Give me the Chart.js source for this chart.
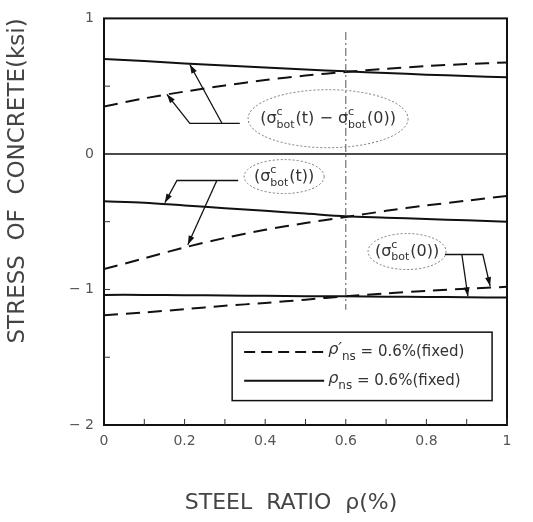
<!DOCTYPE html>
<html><head><meta charset="utf-8">
<script src="https://cdn.jsdelivr.net/npm/chart.js@4/dist/chart.umd.min.js"></script>
<style>html,body{margin:0;padding:0;background:#fff}#wrap{width:533px;height:522px}</style>
</head><body><div id="wrap"><canvas id="c" width="533" height="522"></canvas></div>
<script>
// x: steel ratio (%)
const steelRatio = [0,0.1,0.2,0.3,0.4,0.5,0.6,0.7,0.8,0.9,1.0];
// sigma_bot(t) - sigma_bot(0)
const diffSolid  = [0.70,0.685,0.668,0.652,0.637,0.623,0.61,0.597,0.585,0.575,0.565];
const diffDashed = [0.35,0.41,0.46,0.505,0.545,0.578,0.605,0.628,0.648,0.663,0.675];
// sigma_bot(t)
const botTSolid  = [-0.35,-0.36,-0.38,-0.40,-0.42,-0.44,-0.46,-0.47,-0.48,-0.49,-0.50];
const botTDashed = [-0.85,-0.77,-0.69,-0.62,-0.56,-0.51,-0.465,-0.42,-0.38,-0.345,-0.31];
// sigma_bot(0)
const bot0Solid  = [-1.04,-1.04,-1.042,-1.045,-1.047,-1.05,-1.05,-1.053,-1.055,-1.058,-1.06];
const bot0Dashed = [-1.19,-1.17,-1.145,-1.12,-1.10,-1.075,-1.05,-1.03,-1.01,-0.995,-0.98];
const yTicks = [1,0,-1,-2];
const xTicks = [0,0.2,0.4,0.6,0.8,1];
const legendLabels = [{rho:"ρ′",sub:"ns",rest:" = 0.6%(fixed)",dash:true},{rho:"ρ",sub:"ns",rest:" = 0.6%(fixed)",dash:false}];
const yTitle = "STRESS  OF  CONCRETE(ksi)";
const xTitle = "STEEL  RATIO  ρ(%)";

const pts = arr => arr.map((v,i)=>({x:steelRatio[i],y:v}));
const DASH=[14,8];
function ds(arr,dashed){return {data:pts(arr),borderColor:'#111',borderWidth:2,pointRadius:0,tension:0.3,fill:false,borderDash:dashed?DASH:[]};}

const FONT='"DejaVu Sans", sans-serif';

function drawRich(ctx, segs, cx, cy, size){
  const main = size+'px '+FONT, small=Math.round(size*0.7)+'px '+FONT;
  const widths = segs.map(s=>{
    if(s.t!==undefined){ctx.font=main;return ctx.measureText(s.t).width;}
    ctx.font=small;return Math.max(ctx.measureText(s.sup||'').width,ctx.measureText(s.sub||'').width)+1;
  });
  const w=widths.reduce((a,b)=>a+b,0);
  let x=cx-w/2;
  ctx.textBaseline='middle';ctx.textAlign='left';
  segs.forEach((s,i)=>{
    if(s.t!==undefined){ctx.font=main;ctx.fillText(s.t,x,cy);}
    else{ctx.font=small;if(s.sup)ctx.fillText(s.sup,x,cy-size*0.42);if(s.sub)ctx.fillText(s.sub,x,cy+size*0.38);}
    x+=widths[i];
  });
  return w;
}

const annot = {
  id:'annot',
  afterDatasetsDraw(chart){
    const ctx=chart.ctx, xs=chart.scales.x, ys=chart.scales.y, a=chart.chartArea;
    const X=v=>xs.getPixelForValue(v), Y=v=>ys.getPixelForValue(v);
    ctx.save();
    ctx.strokeStyle='#111';ctx.lineWidth=2;ctx.setLineDash([]);
    ctx.strokeRect(a.left,a.top,a.right-a.left,a.bottom-a.top);
    ctx.lineWidth=1.6;ctx.beginPath();ctx.moveTo(a.left,Y(0));ctx.lineTo(a.right,Y(0));ctx.stroke();
    ctx.lineWidth=1;ctx.strokeStyle='#333';
    for(let v=0.1;v<1;v+=0.1){ctx.beginPath();ctx.moveTo(X(v),a.bottom);ctx.lineTo(X(v),a.bottom-6);ctx.stroke();}
    [0.5,-0.5,-1,-1.5].forEach(v=>{ctx.beginPath();ctx.moveTo(a.left,Y(v));ctx.lineTo(a.left+6,Y(v));ctx.stroke();});
    ctx.strokeStyle='#555';ctx.lineWidth=1;ctx.setLineDash([8,3,2,3]);
    ctx.beginPath();ctx.moveTo(X(0.6),Y(0.9));ctx.lineTo(X(0.6),Y(-1.15));ctx.stroke();
    ctx.setLineDash([]);
    ctx.strokeStyle='#111';ctx.fillStyle='#111';ctx.lineWidth=1.3;
    const line=(p)=>{ctx.beginPath();ctx.moveTo(X(p[0][0]),Y(p[0][1]));for(let i=1;i<p.length;i++)ctx.lineTo(X(p[i][0]),Y(p[i][1]));ctx.stroke();};
    const arrow=(from,to)=>{const x1=X(from[0]),y1=Y(from[1]),x2=X(to[0]),y2=Y(to[1]);
      const ang=Math.atan2(y2-y1,x2-x1),L=9,W=3;
      ctx.beginPath();ctx.moveTo(x2,y2);
      ctx.lineTo(x2-L*Math.cos(ang)+W*Math.sin(ang),y2-L*Math.sin(ang)-W*Math.cos(ang));
      ctx.lineTo(x2-L*Math.cos(ang)-W*Math.sin(ang),y2-L*Math.sin(ang)+W*Math.cos(ang));
      ctx.closePath();ctx.fill();};
    line([[0.337,0.225],[0.213,0.225],[0.156,0.44]]); arrow([0.213,0.225],[0.156,0.44]);
    line([[0.293,0.225],[0.213,0.66]]); arrow([0.293,0.225],[0.213,0.66]);
    line([[0.333,-0.196],[0.181,-0.196],[0.151,-0.36]]); arrow([0.181,-0.196],[0.151,-0.36]);
    line([[0.28,-0.196],[0.208,-0.67]]); arrow([0.28,-0.196],[0.208,-0.67]);
    line([[0.846,-0.742],[0.94,-0.742],[0.958,-0.975]]); arrow([0.94,-0.742],[0.958,-0.975]);
    line([[0.888,-0.742],[0.903,-1.05]]); arrow([0.888,-0.742],[0.903,-1.05]);
    const ell=(cx,cy,rx,ry)=>{ctx.save();ctx.strokeStyle='#777';ctx.lineWidth=1;ctx.setLineDash([2,2]);ctx.beginPath();ctx.ellipse(X(cx),Y(cy),rx,ry,0,0,Math.PI*2);ctx.stroke();ctx.restore();};
    ctx.fillStyle='#333';
    ell(0.556,0.26,80,29);
    drawRich(ctx,[{t:'(σ'},{sup:'c',sub:'bot'},{t:'(t) − σ'},{sup:'c',sub:'bot'},{t:'(0))'}],X(0.556),Y(0.26),16);
    ell(0.447,-0.167,40,17);
    drawRich(ctx,[{t:'(σ'},{sup:'c',sub:'bot'},{t:'(t))'}],X(0.447),Y(-0.167),16);
    ell(0.752,-0.72,39,18);
    drawRich(ctx,[{t:'(σ'},{sup:'c',sub:'bot'},{t:'(0))'}],X(0.752),Y(-0.72),16);
    const lx=X(0.318), rx=X(0.963), ty=Y(-1.315), by=Y(-1.82);
    ctx.strokeStyle='#111';ctx.lineWidth=1.5;ctx.strokeRect(lx,ty,rx-lx,by-ty);
    legendLabels.forEach((L,i)=>{
      const yy=ty+(by-ty)*(i===0?0.29:0.71);
      ctx.lineWidth=1.8;ctx.setLineDash(L.dash?[11,6]:[]);
      ctx.beginPath();ctx.moveTo(lx+12,yy);ctx.lineTo(lx+92,yy);ctx.stroke();ctx.setLineDash([]);
      let x=lx+96;ctx.textBaseline='middle';ctx.textAlign='left';
      ctx.font='italic 16px '+FONT;ctx.fillText(L.rho,x,yy-2);x+=ctx.measureText(L.rho).width;
      ctx.font='12px '+FONT;ctx.fillText(L.sub,x,yy+5);x+=ctx.measureText(L.sub).width;
      ctx.font='15px '+FONT;ctx.fillText(L.rest,x,yy);
    });
    // x-axis title
    ctx.fillStyle='#444';ctx.font='22px '+FONT;ctx.textAlign='center';ctx.textBaseline='middle';
    ctx.fillText(xTitle,291,503);
    ctx.restore();
  }
};

new Chart(document.getElementById('c'),{
  type:'line',
  data:{datasets:[ds(diffSolid,false),ds(diffDashed,true),ds(botTSolid,false),ds(botTDashed,true),ds(bot0Solid,false),ds(bot0Dashed,true)]},
  options:{
    responsive:false,animation:false,
    layout:{padding:{top:15,right:26,left:0,bottom:0}},
    plugins:{legend:{display:false},tooltip:{enabled:false}},
    scales:{
      x:{type:'linear',min:0,max:1,
        afterBuildTicks:s=>{s.ticks=xTicks.map(v=>({value:v}));},
        afterFit:s=>{s.height=97;},
        grid:{display:false,drawTicks:false},border:{display:false},
        ticks:{padding:8,color:'#555',font:{size:14,family:FONT},callback:v=>String(v)},
        title:{display:false}},
      y:{type:'linear',min:-2,max:1,
        afterBuildTicks:s=>{s.ticks=yTicks.map(v=>({value:v}));},
        afterFit:s=>{s.width=104;},
        grid:{display:false,drawTicks:false},border:{display:false},
        ticks:{padding:10,color:'#555',font:{size:14,family:FONT},callback:v=>v<0?'− '+Math.abs(v):String(v)},
        title:{display:true,text:yTitle,align:'end',color:'#444',font:{size:23,family:FONT},padding:{top:4,bottom:0}}}
    }
  },
  plugins:[annot]
});
</script></body></html>
